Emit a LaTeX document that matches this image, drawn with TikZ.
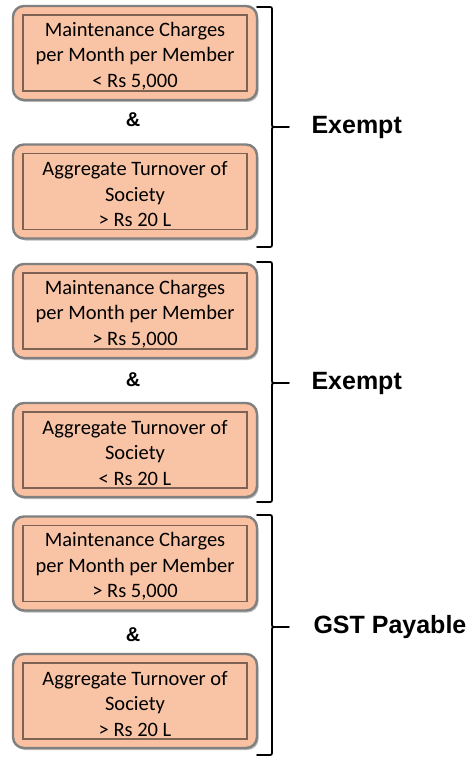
\documentclass[tikz,border=0pt]{standalone}
\usepackage{fontspec}
\setmainfont{Carlito}
\newfontfamily\labfont{Liberation Sans}
\usetikzlibrary{shadows}
\definecolor{boxfill}{HTML}{F9C1A1}
\definecolor{boxedge}{HTML}{808080}
\definecolor{inneredge}{HTML}{7E6354}
\tikzset{
  outerbox/.style={draw=boxedge, line width=2.4pt, rounded corners=11pt, fill=boxfill,
    minimum width=244pt, minimum height=94pt,
    drop shadow={shadow xshift=1.5pt, shadow yshift=-2pt, opacity=0.45, fill=black!60}},
  innerbox/.style={draw=inneredge, line width=1.6pt, fill=boxfill!95!white,
    minimum width=224pt, minimum height=76pt, inner sep=0pt},
  boxtext/.style={align=center, inner sep=0pt, yshift=-3pt,
    font=\fontsize{20.5}{25.5}\selectfont, text=black},
  ampnode/.style={font=\labfont\bfseries\fontsize{20}{22}\selectfont},
  reslabel/.style={font=\labfont\bfseries\fontsize{25}{28}\selectfont, anchor=west},
  bracepath/.style={draw=black, line width=1.8pt, line cap=round},
}
\begin{document}
\begin{tikzpicture}[x=1pt,y=-1pt]
\useasboundingbox (0,0) rectangle (474,759);
\fill[white] (0,0) rectangle (474,759);
% group 1
\node[outerbox] (oa) at (135,53) {};
\node[innerbox] (ia) at (oa.center) {};
\node[boxtext] (ta) at (ia.center) {Maintenance Charges\\per Month per Member\\\textless{} Rs 5,000};
\node[ampnode] (ampa) at (133,120) {\&};
\node[outerbox] (ob) at (135,191.5) {};
\node[innerbox] (ib) at (ob.center) {};
\node[boxtext] (tb) at (ib.center) {Aggregate Turnover of\\Society\\\textgreater{} Rs 20 L};
% group 2
\node[outerbox] (oc) at (135,311) {};
\node[innerbox] (ic) at (oc.center) {};
\node[boxtext] (tc) at (ic.center) {Maintenance Charges\\per Month per Member\\\textgreater{} Rs 5,000};
\node[ampnode] (ampb) at (133,380) {\&};
\node[outerbox] (od) at (135,450) {};
\node[innerbox] (id) at (od.center) {};
\node[boxtext] (td) at (id.center) {Aggregate Turnover of\\Society\\\textless{} Rs 20 L};
% group 3
\node[outerbox] (oe) at (135,563.5) {};
\node[innerbox] (ie) at (oe.center) {};
\node[boxtext] (te) at (ie.center) {Maintenance Charges\\per Month per Member\\\textgreater{} Rs 5,000};
\node[ampnode] (ampc) at (133,635) {\&};
\node[outerbox] (of) at (135,701) {};
\node[innerbox] (if) at (of.center) {};
\node[boxtext] (tf) at (if.center) {Aggregate Turnover of\\Society\\\textgreater{} Rs 20 L};
% braces
\foreach \t/\b/\m in {7/247/127, 262/502/383, 515/755/627}{
  \draw[bracepath] (257,\t) -- (268,\t) .. controls (272,\t) .. (272,\t+4) -- (272,\m-4)
     .. controls (272,\m) .. (276,\m) -- (289,\m);
  \draw[bracepath] (257,\b) -- (268,\b) .. controls (272,\b) .. (272,\b-4) -- (272,\m+4)
     .. controls (272,\m) .. (276,\m);
}
\node[reslabel] (ra) at (308,127) {Exempt};
\node[reslabel] (rb) at (308,383) {Exempt};
\node[reslabel] (rc) at (310,627) {GST Payable};
\end{tikzpicture}
\end{document}
